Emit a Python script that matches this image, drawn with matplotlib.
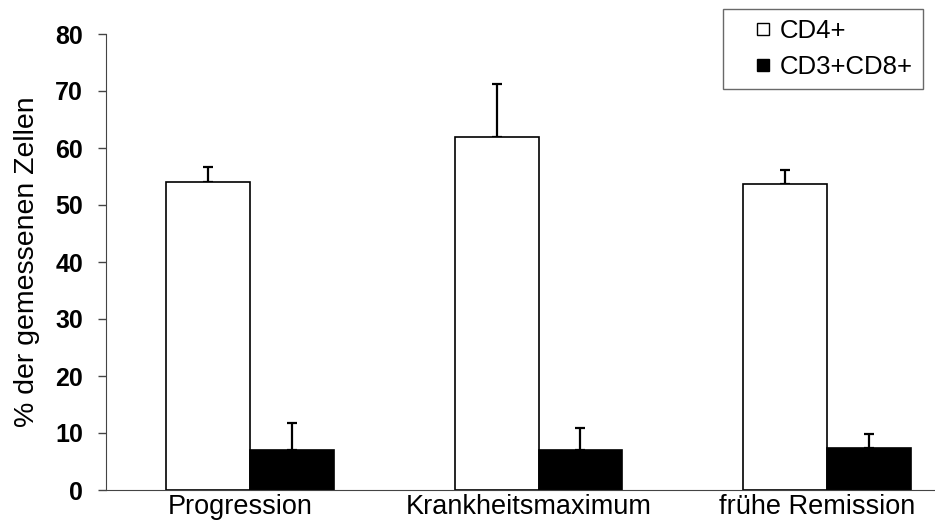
import matplotlib
matplotlib.use('Agg')
import numpy as np
import matplotlib.pyplot as plt
from matplotlib.lines import Line2D

plt.rcParams['font.family'] = ['Liberation Sans', 'DejaVu Sans']

phases = ['Progression', 'Krankheitsmaximum', 'frühe Remission']
cd4 = [54.0, 62.0, 53.6]
cd4_err = [2.6, 9.2, 2.5]
cd8 = [7.0, 7.1, 7.3]
cd8_err = [4.7, 3.7, 2.5]

x = np.arange(len(phases))
w = 0.291

fig = plt.figure(figsize=(9.35, 5.25), dpi=100)
# axes runs past the right edge, like the cropped original
ax = fig.add_axes([106/935, 35/525, 865/935, 456/525])

ax.bar(x - w/2, cd4, w, color='white', edgecolor='black', linewidth=1.2, zorder=2)
ax.bar(x + w/2, cd8, w, color='black', edgecolor='black', linewidth=1.2, zorder=2)
ax.errorbar(x - w/2, cd4, yerr=[np.zeros(3), cd4_err], fmt='none', ecolor='black',
            elinewidth=1.6, capsize=3.3, capthick=1.6, zorder=1)
ax.errorbar(x + w/2, cd8, yerr=[np.zeros(3), cd8_err], fmt='none', ecolor='black',
            elinewidth=1.6, capsize=3.3, capthick=1.6, zorder=3)

ax.set_xlim(-0.5, 2.5)
ax.set_ylim(0, 80)
ax.set_yticks(np.arange(0, 81, 10))
ax.set_xticks(x - 0.035)
ax.set_xticklabels(phases, fontsize=19.5)
ax.tick_params(axis='x', length=0, pad=3)
ax.tick_params(axis='y', length=6, width=1, color='#444444', labelsize=18, pad=10.5)
for lab in ax.get_yticklabels():
    lab.set_fontweight('bold')
ax.spines['top'].set_visible(False)
ax.spines['right'].set_visible(False)
ax.spines['left'].set_color('#444444')
ax.spines['bottom'].set_color('#444444')
ax.set_ylabel('% der gemessenen Zellen', fontsize=20.5, labelpad=11)

handles = [Line2D([], [], ls='none', marker='s', ms=9, mfc='white', mec='black', mew=1),
           Line2D([], [], ls='none', marker='s', ms=9, mfc='black', mec='black', mew=1)]
fig.legend(handles, ['CD4+', 'CD3+CD8+'], loc='upper left',
           bbox_to_anchor=(723/935, 1 - 9/525), fontsize=18.5, frameon=True,
           fancybox=False, edgecolor='#444444', handlelength=2.3,
           handletextpad=-0.5, borderpad=0.4, labelspacing=0.45, borderaxespad=0)

plt.savefig('out.png', dpi=100)
